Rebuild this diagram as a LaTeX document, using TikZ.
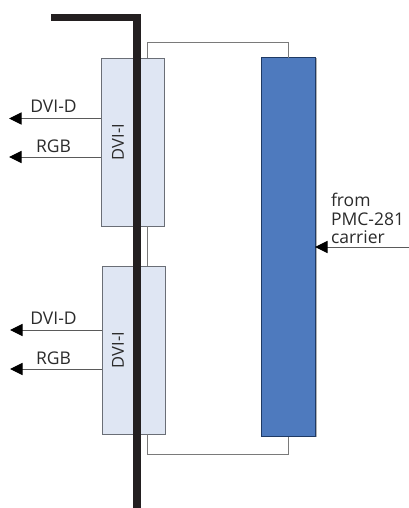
\documentclass[tikz,border=0pt]{standalone}
\usepackage{fontspec}
\setmainfont{Open Sans}
\usetikzlibrary{arrows.meta,calc}
\definecolor{thinline}{HTML}{7A7A7A}
\definecolor{arrowline}{HTML}{5A5A5A}
\definecolor{boxedge}{HTML}{6A6E76}
\definecolor{boxfill}{HTML}{DFE6F3}
\definecolor{bluefill}{HTML}{4E7ABE}
\definecolor{blueedge}{HTML}{1F3A64}
\definecolor{barcol}{HTML}{231F20}
\definecolor{textcol}{HTML}{2B2B2B}
\tikzset{
  dvibox/.style={draw=boxedge,fill=boxfill,line width=0.9pt,minimum width=63pt,minimum height=168pt,inner sep=0pt,outer sep=0pt},
  bluebox/.style={draw=blueedge,fill=bluefill,line width=1pt,minimum width=53.5pt,minimum height=378.5pt,inner sep=0pt,outer sep=0pt},
  wire/.style={draw=thinline,line width=1pt},
  sig/.style={draw=arrowline,line width=1pt,-{Triangle[length=12.5pt,width=12pt,color=black]}},
  bar/.style={draw=barcol,line width=7.6pt},
  lab/.style={text=textcol,font=\fontsize{17.5}{20}\selectfont,inner sep=0pt,outer sep=0pt},
  vlab/.style={lab,font=\fontsize{16.5}{20}\selectfont,rotate=90,anchor=center}
}
\begin{document}
\begin{tikzpicture}[x=1pt,y=-1pt]
\useasboundingbox (0,0) rectangle (409,508);
% free-end coordinates
\coordinate (wtl) at (147,43);
\coordinate (wtr) at (288.5,43);
\coordinate (wbl) at (147,454);
\coordinate (wbr) at (288.5,454);
\coordinate (barL) at (51,17.5);
\coordinate (barC) at (137,17.5);
\coordinate (barB) at (137,508);
\coordinate (o1) at (9,118.5);
\coordinate (o2) at (9,157);
\coordinate (o3) at (10,330);
\coordinate (o4) at (10,369);
\coordinate (inR) at (409,247);
% boxes
\node[dvibox] (top) at (132.5,142) {};
\node[dvibox] (bot) at (133.5,350) {};
\node[bluebox] (fpga) at (288.25,247.25) {};
\draw[draw=gray!60,line width=0.8pt] ($(fpga.north east)+(0.9,0)$) -- ($(fpga.south east)+(0.9,0)$);
% thin wires
\draw[wire] (top.north -| wtl) -- (wtl) -- (wtr) -- (fpga.north -| wtr);
\draw[wire] (top.south -| wtl) -- (bot.north -| wtl);
\draw[wire] (bot.south -| wbl) -- (wbl) -- (wbr) -- (fpga.south -| wbr);
% thick bar
\draw[bar,line join=miter] (barL) -- (barC) -- (barB);
% signal arrows
\draw[sig] (o1 -| top.west) -- (o1);
\draw[sig] (o2 -| top.west) -- (o2);
\draw[sig] (o3 -| bot.west) -- (o3);
\draw[sig] (o4 -| bot.west) -- (o4);
\draw[sig] (inR) -- (inR -| fpga.east);
% labels
\node[lab,anchor=base] (l1) at (53.5,112.5) {DVI-D};
\node[lab,anchor=base] (l2) at (53.5,152) {RGB};
\node[lab,anchor=base] (l3) at (53.5,324.5) {DVI-D};
\node[lab,anchor=base] (l4) at (53.5,364) {RGB};
\node[vlab] (v1) at (118,142) {DVI-I};
\node[vlab] (v2) at (118,350) {DVI-I};
\node[lab,anchor=base west] (f1) at (331,206) {from};
\node[lab,anchor=base west] (f2) at (331,225) {PMC-281};
\node[lab,anchor=base west] (f3) at (331,243.5) {carrier};
\end{tikzpicture}
\end{document}
